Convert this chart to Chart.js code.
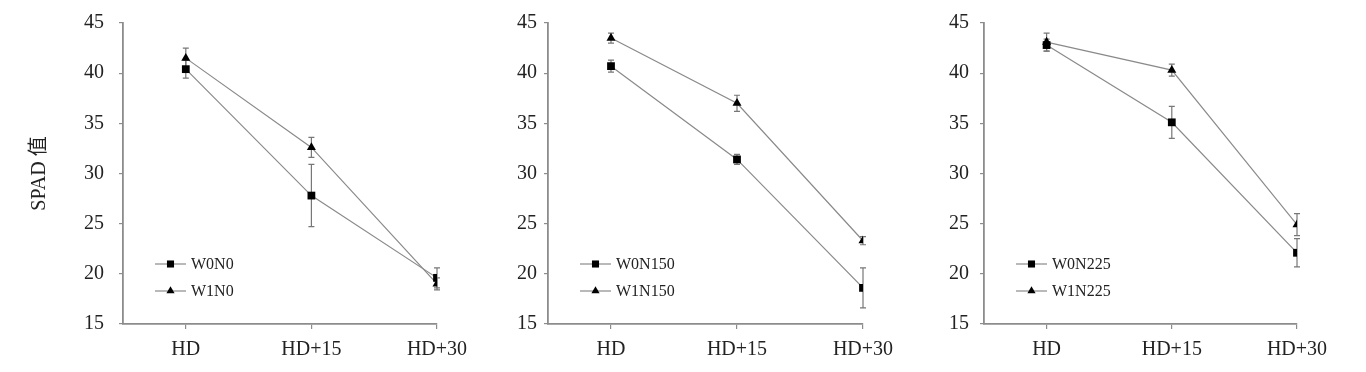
<!DOCTYPE html>
<html>
<head>
<meta charset="utf-8">
<script src="https://cdn.jsdelivr.net/npm/chart.js@4/dist/chart.umd.min.js"></script>
<style>
  html, body { margin: 0; padding: 0; background: #fff; }
  body { width: 1366px; height: 372px; position: relative; overflow: hidden; }
  .painel { position: absolute; top: 0; height: 372px; }
</style>
</head>
<body>
<div class="painel" style="left:0px;width:474px"><canvas id="grafN0"></canvas></div>
<div class="painel" style="left:474px;width:426px"><canvas id="grafN150"></canvas></div>
<div class="painel" style="left:900px;width:434px"><canvas id="grafN225"></canvas></div>
<script>
// === SPAD 值 em três níveis de N ===

// Categorias (datas) e eixo y
const categorias = ['HD', 'HD+15', 'HD+30'];
const yTicks = [15, 20, 25, 30, 35, 40, 45];

// N0
const w0n0 = [40.4, 27.8, 19.6];
const w0n0Erro = [0.9, 3.1, 1.0];
const w1n0 = [41.5, 32.6, 19.0];
const w1n0Erro = [1.0, 1.0, 0.6];

// N150
const w0n150 = [40.7, 31.4, 18.6];
const w0n150Erro = [0.6, 0.5, 2.0];
const w1n150 = [43.5, 37.0, 23.3];
const w1n150Erro = [0.5, 0.8, 0.4];

// N225
const w0n225 = [42.8, 35.1, 22.1];
const w0n225Erro = [0.6, 1.6, 1.4];
const w1n225 = [43.1, 40.3, 24.9];
const w1n225Erro = [0.9, 0.6, 1.1];

const corLinha = '#8a8a8a';
const corEixo = '#8c8c8c';
const fonteSerif = '"Liberation Serif", "Noto Sans CJK SC", serif';

// Barras de erro (desenhadas antes dos marcadores)
const barrasErro = {
  id: 'barrasErro',
  beforeDatasetsDraw(chart) {
    const ctx = chart.ctx;
    const sx = chart.scales.x, sy = chart.scales.y;
    ctx.save();
    ctx.strokeStyle = '#777';
    ctx.lineWidth = 1.2;
    chart.data.datasets.forEach(ds => {
      ds.data.forEach((p, i) => {
        const e = ds.erros[i];
        const x = sx.getPixelForValue(p.x);
        const y1 = sy.getPixelForValue(p.y + e);
        const y2 = sy.getPixelForValue(p.y - e);
        ctx.beginPath();
        ctx.moveTo(x, y1); ctx.lineTo(x, y2);
        ctx.moveTo(x - 3, y1); ctx.lineTo(x + 3, y1);
        ctx.moveTo(x - 3, y2); ctx.lineTo(x + 3, y2);
        ctx.stroke();
      });
    });
    ctx.restore();
  }
};

// Legenda dentro da área do gráfico
const legendaInterna = {
  id: 'legendaInterna',
  afterDraw(chart, args, opts) {
    const ctx = chart.ctx;
    const area = chart.chartArea;
    ctx.save();
    chart.data.datasets.forEach((ds, i) => {
      const x0 = area.left + opts.dx;
      const y = area.top + opts.dy + i * 27;
      ctx.strokeStyle = corLinha;
      ctx.lineWidth = 1.2;
      ctx.beginPath();
      ctx.moveTo(x0, y); ctx.lineTo(x0 + 31, y);
      ctx.stroke();
      ctx.fillStyle = '#000';
      ctx.strokeStyle = '#000';
      Chart.helpers.drawPoint(ctx, {
        pointStyle: ds.pointStyle, radius: ds.pointRadius - 0.5, borderWidth: 0
      }, x0 + 15.5, y);
      ctx.fillStyle = '#222';
      ctx.font = '16px ' + fonteSerif;
      ctx.textBaseline = 'middle';
      ctx.textAlign = 'left';
      ctx.fillText(ds.label, x0 + 36, y + 1);
    });
    ctx.restore();
  }
};

function serie(label, valores, erros, estilo) {
  return {
    label: label,
    data: valores.map((v, i) => ({ x: i, y: v })),
    erros: erros,
    borderColor: corLinha,
    borderWidth: 1.2,
    tension: 0,
    pointStyle: estilo,
    pointRadius: estilo === 'rect' ? 5.5 : 5.2,
    pointBackgroundColor: '#000',
    pointBorderColor: '#000',
    pointBorderWidth: 0,
  };
}

function criarGrafico(id, series, larguraY, padY, tituloY) {
  const config = {
    type: 'line',
    data: { datasets: series },
    options: {
      responsive: false,
      animation: false,
      layout: { padding: { top: 23, right: 37, bottom: 0, left: 0 } },
      plugins: {
        legend: { display: false },
        tooltip: { enabled: false },
        legendaInterna: { dx: 32, dy: 241 }
      },
      scales: {
        x: {
          type: 'linear',
          min: -0.5,
          max: 2,
          afterBuildTicks: (s) => { s.ticks = categorias.map((c, i) => ({ value: i })); },
          afterFit: (s) => {
            s.height = 48;
            s.paddingLeft = 0;
            s.paddingRight = 0;
          },
          ticks: {
            autoSkip: false,
            maxRotation: 0,
            padding: 9,
            color: '#222',
            font: { family: fonteSerif, size: 20 },
            callback: (v) => categorias[v]
          },
          grid: { drawOnChartArea: false, drawTicks: true, tickLength: 5, color: corEixo, lineWidth: 1.2 },
          border: { display: true, color: corEixo, width: 1.8 }
        },
        y: {
          min: 15,
          max: 45,
          afterBuildTicks: (s) => { s.ticks = yTicks.map(v => ({ value: v })); },
          afterFit: (s) => {
            s.width = larguraY;
            s.paddingTop = 12;
            s.paddingBottom = 12;
          },
          ticks: {
            padding: padY,
            color: '#222',
            font: { family: fonteSerif, size: 20 }
          },
          title: {
            display: !!tituloY,
            text: tituloY || '',
            color: '#222',
            font: { family: fonteSerif, size: 20 },
            padding: { top: 28, bottom: 0 }
          },
          grid: { drawOnChartArea: false, drawTicks: true, tickLength: 4, color: corEixo, lineWidth: 1.2 },
          border: { display: true, color: corEixo, width: 1.8 }
        }
      }
    },
    plugins: [barrasErro, legendaInterna]
  };
  const cv = document.getElementById(id);
  cv.width = cv.parentElement.clientWidth;
  cv.height = 372;
  return new Chart(cv, config);
}

criarGrafico('grafN0', [
  serie('W0N0', w0n0, w0n0Erro, 'rect'),
  serie('W1N0', w1n0, w1n0Erro, 'triangle')
], 123, 15, 'SPAD 值');

criarGrafico('grafN150', [
  serie('W0N150', w0n150, w0n150Erro, 'rect'),
  serie('W1N150', w1n150, w1n150Erro, 'triangle')
], 74, 7, null);

criarGrafico('grafN225', [
  serie('W0N225', w0n225, w0n225Erro, 'rect'),
  serie('W1N225', w1n225, w1n225Erro, 'triangle')
], 84, 11, null);
</script>
</body>
</html>
